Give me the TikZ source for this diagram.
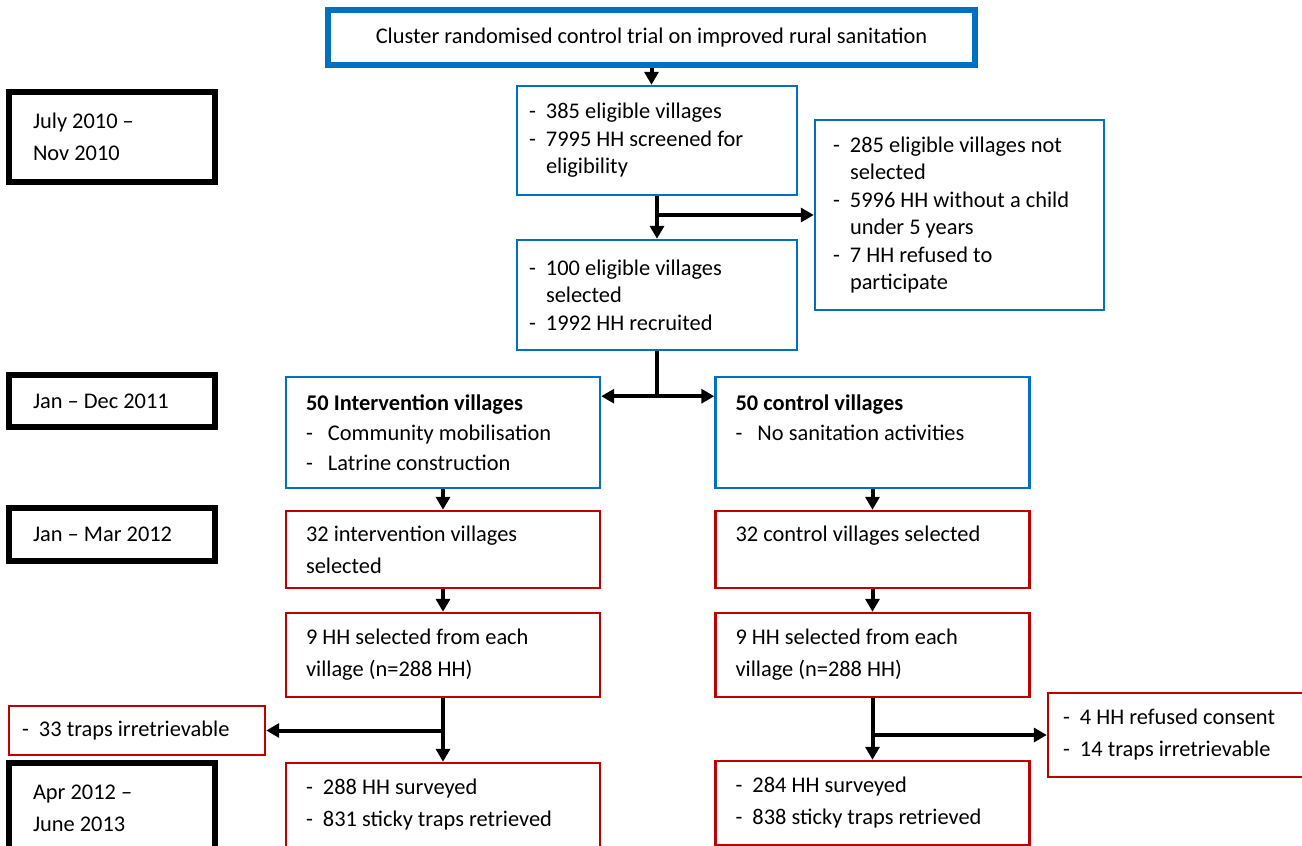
\documentclass[tikz,border=0pt]{standalone}
\usepackage{fontspec}
\setmainfont{Carlito}
\usetikzlibrary{arrows.meta}
\definecolor{wordblue}{RGB}{0,112,192}
\definecolor{wordred}{RGB}{192,0,0}
\newcommand{\dsh}{\makebox[8.5pt][l]{-}}
\newcommand{\ind}{\hspace*{8.5pt}}

\begin{document}
\begin{tikzpicture}[x=0.5pt,y=-0.5pt,
  every node/.style={font=\fontsize{11.2}{16}\selectfont},
  bluebox/.style={draw=wordblue, line width=1.2pt, align=flush left, inner xsep=6pt, inner ysep=0pt},
  redbox/.style={draw=wordred, line width=1.2pt, align=flush left, inner xsep=10pt, inner ysep=0pt, text width=137pt},
  datebox/.style={draw=black, line width=2.6pt, align=flush left, inner xsep=12pt, inner ysep=0pt, text width=79pt},
  arrow/.style={line width=2pt, -{Triangle[length=6.5pt,width=7pt]}},
  line/.style={line width=2pt}]
  \useasboundingbox (0,0) rectangle (1302,846);

  % Define time line
  \node[datebox, minimum height=45pt] (d1) at (112,137) {July 2010 --\\Nov 2010};
  \node[datebox, minimum height=26pt] (d2) at (112,401) {Jan -- Dec 2011};
  \node[datebox, minimum height=26.5pt] (d3) at (112,534.5) {Jan -- Mar 2012};
  \node[datebox, minimum height=45pt] (d4) at (112,808) {Apr 2012 --\\June 2013};

  % Define enrolment
  \node[draw=wordblue, line width=2.6pt, minimum width=323.5pt, minimum height=27.5pt] (trial) at (651.5,37.5)
    {Cluster randomised control trial on improved rural sanitation};
  \node[bluebox, text width=128pt, minimum height=54.5pt, font=\fontsize{11.2}{13.75}\selectfont] (screen) at (657,140.5)
    {\dsh 385 eligible villages\\\dsh 7995 HH screened for\\\ind eligibility};
  \node[bluebox, inner xsep=9pt, text width=126.5pt, minimum height=95pt, font=\fontsize{11.2}{13.75}\selectfont] (excl) at (959.5,215)
    {\dsh 285 eligible villages not\\\ind selected\\\dsh 5996 HH without a child\\\ind under 5 years\\\dsh 7 HH refused to\\\ind participate};
  \node[bluebox, text width=128pt, minimum height=55pt, font=\fontsize{11.2}{13.75}\selectfont] (recruit) at (657,295)
    {\dsh 100 eligible villages\\\ind selected\\\dsh 1992 HH recruited};

  % Define arms
  \node[bluebox, inner xsep=10pt, text width=137pt, minimum height=55.5pt, font=\fontsize{11.2}{15}\selectfont] (interv) at (443,432.5)
    {\textbf{50 Intervention villages}\\\makebox[11pt][l]{-}Community mobilisation\\\makebox[11pt][l]{-}Latrine construction};
  \node[bluebox, inner xsep=10pt, text width=137pt, minimum height=55.5pt, font=\fontsize{11.2}{15}\selectfont] (ctrl) at (872.5,432.5)
    {\textbf{50 control villages}\\\makebox[11pt][l]{-}No sanitation activities\\\mbox{}};
  \node[redbox, minimum height=38.5pt] (isel) at (443,549.5) {32 intervention villages\\selected};
  \node[redbox, minimum height=38.5pt] (csel) at (872.5,549.5) {32 control villages selected\\\mbox{}};
  \node[redbox, minimum height=42pt] (ihh) at (443,655) {9 HH selected from each\\village (n=288 HH)};
  \node[redbox, minimum height=42pt] (chh) at (872.5,655) {9 HH selected from each\\village (n=288 HH)};
  \node[redbox, inner xsep=6.5pt, text width=115pt, minimum height=24.5pt] (iloss) at (137,730.5) {\dsh 33 traps irretrievable};
  \node[redbox, inner xsep=7.5pt, text width=113pt, minimum height=42pt] (closs) at (1176,735)
    {\dsh 4 HH refused consent\\\dsh 14 traps irretrievable};
  \node[redbox, minimum height=42pt] (isurv) at (443,805) {\dsh 288 HH surveyed\\\dsh 831 sticky traps retrieved};
  \node[redbox, minimum height=42pt] (csurv) at (872.5,803) {\dsh 284 HH surveyed\\\dsh 838 sticky traps retrieved};

  % Draw arrows
  \draw[arrow] (trial.south) -- (trial.south |- screen.north);
  \draw[arrow] (screen.south) -- (recruit.north);
  \draw[arrow] (screen.south |- excl.west) -- (excl.west);
  \draw[line] (recruit.south) -- ++(0,45) coordinate (split);
  \draw[arrow] (split) -- (split -| interv.east);
  \draw[arrow] (split) -- (split -| ctrl.west);
  \draw[arrow] (interv.south) -- (isel.north);
  \draw[arrow] (ctrl.south) -- (csel.north);
  \draw[arrow] (isel.south) -- (ihh.north);
  \draw[arrow] (csel.south) -- (chh.north);
  \draw[arrow] (ihh.south) -- (isurv.north);
  \draw[arrow] (chh.south) -- (csurv.north);
  \draw[arrow] (ihh.south |- iloss.east) -- (iloss.east);
  \draw[arrow] (chh.south |- closs.west) -- (closs.west);
\end{tikzpicture}
\end{document}
